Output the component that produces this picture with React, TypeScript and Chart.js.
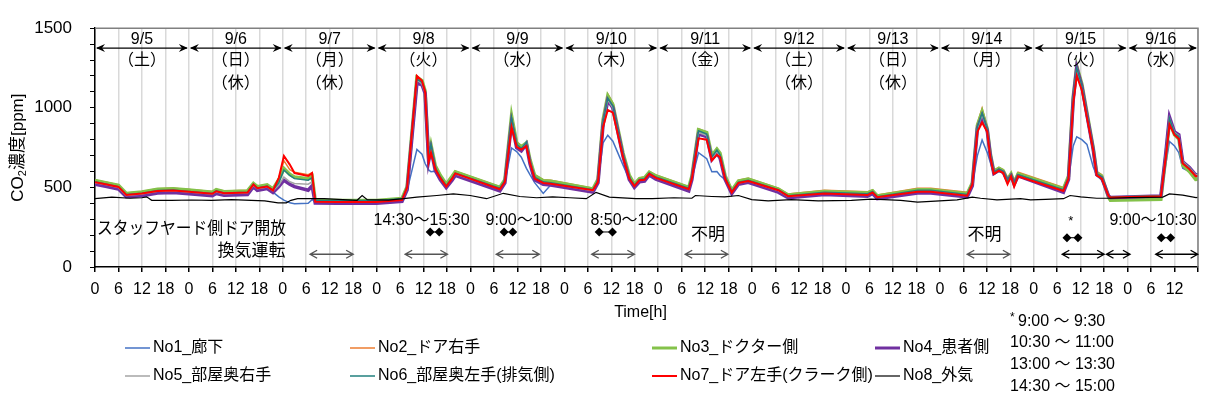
import React, { useEffect, useRef } from 'react';
import { Chart, registerables } from 'chart.js';

Chart.register(...registerables);

const FONT = '"Liberation Sans", Arial, "Noto Sans CJK JP", sans-serif';

// elapsed hours from 9/5 0:00
const hours = [
  0, 3, 6, 8, 12, 16, 20, 24, 30, 31, 33, 39, 40.5, 41.5, 44, 45.5,
  47, 48.3, 49.8, 51, 54.5, 55.5, 56.3, 62, 72,
  78.5, 79.8, 82.3, 83.6, 84.4, 85.3, 85.9, 87, 88.3, 89.8, 91.3, 92.1,
  103.5, 104.8, 106.5, 107.8, 109, 110.3, 111.2, 112.4, 114.6, 116.5,
  127.3, 128.6, 129.9, 131.1, 132.4, 135, 136.6, 137.9, 139.2, 140.5, 141.7, 143.4,
  151.8, 152.6, 154.3, 156.4, 157.7, 159, 159.8, 161.1, 162.8, 164.5, 167,
  174.7, 177.2, 186.5, 197.5, 198.8, 200, 210.3, 213.7, 223, 224.3,
  225.6, 226.8, 228.1, 228.9, 229.8, 231.1, 232.2, 233.3, 234.2, 235, 236,
  247.6, 248.9, 250.1, 251, 252.3, 253.6, 255.2, 256.1, 257.4, 259.1, 259.6,
  272.5, 273.8, 274.7, 276, 277.1, 278.1, 279.8, 281.4, 282,
];

const no1 = [
  528, 514, 498, 448, 457, 474, 477, 469, 456, 472, 459, 464, 515, 490, 500, 470,
  440, 420, 403, 398, 400, 423, 412, 410, 410,
  420, 480, 738, 708, 650, 610, 598, 602, 559, 505, 552, 583,
  490, 535, 748, 725, 690, 620, 580, 530, 462, 515,
  480, 540, 780, 828, 790, 640, 550, 505, 545, 550, 585, 560,
  490, 555, 718, 680, 598, 600, 575, 549, 479, 528, 540,
  480, 443, 465, 455, 470, 438, 476, 476, 450, 515,
  700, 798, 720, 658, 580, 600, 590, 535, 570, 515, 570,
  478, 550, 760, 818, 800, 770, 630, 575, 545, 450, 438,
  446, 650, 788, 760, 718, 620, 599, 565, 570,
];

const no2 = [
  545, 532, 515, 465, 475, 492, 495, 487, 474, 488, 477, 482, 528, 507, 518, 495,
  560, 668, 612, 595, 580, 592, 412, 400, 400,
  422, 505, 1200, 1175, 1110, 690, 760, 640, 580, 525, 575, 602,
  505, 550, 958, 785, 760, 775, 680, 580, 548, 545,
  495, 555, 930, 1087, 1030, 720, 580, 525, 560, 565, 600, 578,
  505, 572, 868, 848, 700, 745, 715, 575, 485, 545, 557,
  495, 458, 482, 472, 485, 452, 495, 495, 469, 530,
  900, 998, 880, 715, 610, 625, 612, 560, 592, 540, 595,
  500, 575, 1080, 1277, 1160, 980, 760, 600, 580, 432, 430,
  445, 710, 920, 835, 815, 650, 615, 565, 570,
];

const no3 = [
  543, 528, 513, 462, 471, 488, 491, 483, 470, 486, 473, 478, 525, 505, 516, 491,
  548, 619, 582, 565, 555, 570, 418, 418, 418,
  430, 505, 1190, 1170, 1105, 685, 765, 635, 575, 520, 570, 598,
  500, 548, 950, 780, 755, 780, 675, 575, 542, 538,
  490, 550, 925, 1075, 1020, 715, 575, 520, 555, 560, 595, 572,
  500, 570, 862, 845, 700, 740, 715, 572, 480, 540, 552,
  490, 452, 475, 465, 478, 446, 486, 486, 460, 528,
  890, 975, 870, 712, 600, 620, 605, 550, 585, 530, 585,
  490, 570, 1070, 1260, 1150, 970, 750, 590, 570, 440, 420,
  425, 700, 915, 830, 805, 640, 600, 550, 552,
];

const no4 = [
  520, 506, 490, 442, 448, 465, 468, 460, 448, 462, 451, 456, 505, 482, 493, 468,
  505, 545, 520, 505, 482, 510, 402, 400, 400,
  412, 485, 1155, 1145, 1090, 665, 740, 605, 548, 498, 545, 575,
  478, 528, 905, 750, 730, 770, 650, 548, 520, 515,
  470, 530, 895, 1047, 1000, 695, 550, 500, 535, 540, 578, 552,
  478, 548, 835, 820, 675, 715, 685, 550, 462, 520, 532,
  470, 435, 455, 445, 462, 430, 465, 465, 440, 510,
  870, 948, 858, 700, 588, 608, 595, 540, 572, 520, 572,
  470, 550, 1050, 1250, 1135, 955, 740, 580, 560, 448, 436,
  446, 725, 942, 848, 830, 660, 625, 578, 580,
];

const no5 = [
  530, 516, 500, 450, 459, 476, 479, 471, 458, 473, 460, 466, 512, 492, 503, 478,
  515, 565, 535, 525, 520, 535, 412, 410, 410,
  422, 495, 1175, 1150, 1095, 670, 750, 618, 560, 508, 555, 585,
  490, 540, 915, 765, 740, 790, 660, 560, 530, 525,
  480, 540, 905, 1050, 1000, 700, 560, 510, 545, 550, 585, 560,
  490, 560, 845, 825, 680, 725, 695, 560, 470, 528, 540,
  480, 443, 465, 455, 470, 438, 476, 476, 450, 520,
  870, 955, 860, 700, 590, 610, 595, 540, 575, 520, 575,
  480, 560, 1055, 1245, 1135, 955, 740, 580, 560, 450, 438,
  448, 720, 935, 845, 825, 660, 625, 578, 580,
];

const no6 = [
  535, 520, 505, 455, 463, 480, 483, 475, 462, 478, 465, 470, 520, 497, 508, 483,
  530, 609, 575, 555, 545, 560, 420, 418, 418,
  428, 500, 1180, 1160, 1100, 680, 768, 625, 565, 512, 560, 590,
  495, 545, 935, 770, 745, 785, 665, 565, 535, 530,
  485, 545, 910, 1060, 1010, 705, 565, 515, 550, 555, 590, 565,
  495, 565, 855, 835, 690, 735, 705, 565, 475, 533, 545,
  485, 448, 470, 460, 475, 442, 482, 482, 455, 525,
  880, 965, 865, 705, 595, 615, 600, 545, 580, 525, 580,
  485, 565, 1060, 1250, 1140, 960, 745, 585, 565, 452, 440,
  448, 720, 935, 840, 820, 655, 620, 572, 575,
];

const no7 = [
  532, 518, 503, 452, 461, 478, 481, 473, 460, 476, 463, 468, 518, 495, 506, 481,
  560, 698, 643, 590, 572, 590, 410, 408, 408,
  420, 500, 1200, 1170, 1100, 660, 718, 615, 558, 505, 555, 588,
  488, 535, 880, 755, 738, 760, 655, 555, 528, 523,
  482, 535, 880, 987, 970, 690, 555, 508, 545, 548, 585, 560,
  488, 555, 808, 800, 670, 705, 690, 555, 468, 528, 540,
  482, 445, 462, 452, 468, 438, 472, 472, 448, 518,
  850, 908, 850, 690, 585, 605, 590, 520, 570, 505, 570,
  478, 555, 1030, 1200, 1110, 940, 735, 575, 555, 448, 436,
  445, 700, 895, 830, 805, 650, 615, 570, 572,
];

const outdoorHours = [
  0, 4.3, 9, 12, 13.2, 14.5, 19.6, 24.7, 29.8, 34.9, 40, 43.4, 46.8, 48.9, 50.1,
  51.8, 58.6, 67, 68.3, 69.6, 75, 78.9, 82.3, 87.4, 91.6, 95.9, 100.1, 104.4, 108.6, 112.9,
  117, 121.4, 125.6, 128.1, 131.5, 138.3, 142.5, 148, 152.6, 153.5, 157.7, 161, 164.5, 167.9, 172.1,
  178, 184.9, 193.4, 198.5, 201.8, 206, 210.3, 213.7, 220.4, 224.3, 226.4, 230.6, 236.6, 239.2, 243,
  247.6, 249.3, 252, 256.1, 259.5, 264.6, 273, 274.7, 278.1, 281.5, 282,
];
const no8 = [
  429, 439, 432, 435, 441, 419, 419, 421, 419, 423, 419, 415, 403, 403, 419,
  429, 429, 419, 449, 423, 420, 429, 439, 449, 459, 449, 429, 463, 443, 435,
  440, 435, 429, 469, 439, 429, 429, 435, 432, 449, 443, 440, 449, 423, 415,
  423, 415, 419, 426, 423, 418, 407, 412, 422, 439, 432, 422, 429, 422, 425,
  429, 449, 440, 432, 432, 436, 439, 459, 452, 436, 438,
];

const seriesLabels = [
  'No1_廊下', 'No2_ドア右手', 'No3_ドクター側', 'No4_患者側',
  'No5_部屋奥右手', 'No6_部屋奥左手(排気側)', 'No7_ドア左手(クラーク側)', 'No8_外気',
];
const seriesColors = ['#4472C4', '#ED7D31', '#84C24A', '#7030A0', '#A5A5A5', '#22807E', '#FF0000', '#000000'];
const seriesWidths = [1.5, 1.5, 3.5, 3.5, 1.5, 1.5, 2, 1.2];

const dayLabels = ['9/5', '9/6', '9/7', '9/8', '9/9', '9/10', '9/11', '9/12', '9/13', '9/14', '9/15', '9/16'];
const weekdayLabels = ['（土）', '（日）', '（月）', '（火）', '（水）', '（木）', '（金）', '（土）', '（日）', '（月）', '（火）', '（水）'];
const holidayIdx = [1, 2, 7, 8];
const holidayLabel = '（休）';

const X_MAX = 282;
const Y_MAX = 1500;

// lower annotations (hours, ppm)
const periodArrows = [
  [55, 66], [79.3, 90.1], [102.6, 113.6], [127, 137.9], [150.9, 161.8],
  [223, 233.9], [247.3, 258], [258.6, 264.6], [271.2, 281.9],
];
const periodArrowColors = ['#555', '#555', '#555', '#555', '#555', '#555', '#000', '#000', '#000'];
const timeTexts = [
  { t: '14:30～15:30', h: 83.5, v: 291 },
  { t: '9:00～10:00', h: 111, v: 291 },
  { t: '8:50～12:00', h: 137.8, v: 291 },
  { t: '不明', h: 156.7, v: 201 },
  { t: '不明', h: 227.4, v: 201 },
  { t: '9:00～10:30', h: 270.5, v: 291 },
];
const diamondPairs = [
  { a: 85.7, b: 88.0, v: 220 },
  { a: 104.6, b: 106.8, v: 220 },
  { a: 128.9, b: 132.3, v: 220 },
  { a: 248.5, b: 251.3, v: 184 },
  { a: 272.6, b: 275.0, v: 184 },
];
const footNotes = ['9:00 ～ 9:30', '10:30 ～ 11:00', '13:00 ～ 13:30', '14:30 ～ 15:00'];

function toPoints(xs: number[], ys: number[]) {
  return xs.map((x, i) => ({ x, y: ys[i] }));
}

const annotationPlugin = {
  id: 'annotations',
  afterDraw(chart: any) {
    const { ctx, chartArea } = chart;
    const xs = chart.scales.x;
    const ys = chart.scales.y;
    const X = (h: number) => xs.getPixelForValue(h);
    const Y = (v: number) => ys.getPixelForValue(v);
    const text = (s: string, x: number, y: number, size: number, align: CanvasTextAlign = 'center', maxW?: number) => {
      ctx.font = `${size}px ${FONT}`;
      ctx.textAlign = align;
      ctx.textBaseline = 'middle';
      ctx.fillStyle = '#000';
      if (maxW) ctx.fillText(s, x, y, maxW);
      else ctx.fillText(s, x, y);
    };
    ctx.save();

    // plot border (top/right)
    ctx.strokeStyle = '#808080';
    ctx.lineWidth = 1.5;
    ctx.beginPath();
    ctx.moveTo(chartArea.left, chartArea.top);
    ctx.lineTo(chartArea.right, chartArea.top);
    ctx.lineTo(chartArea.right, chartArea.bottom);
    ctx.stroke();

    // day arrows
    const ay = Y(1375);
    const filledHead = (x: number, y: number, dir: number) => {
      ctx.beginPath();
      ctx.moveTo(x, y);
      ctx.lineTo(x - dir * 9, y - 4);
      ctx.lineTo(x - dir * 6, y);
      ctx.lineTo(x - dir * 9, y + 4);
      ctx.closePath();
      ctx.fill();
    };
    ctx.strokeStyle = '#000';
    ctx.fillStyle = '#000';
    ctx.lineWidth = 1.2;
    dayLabels.forEach((d, i) => {
      const x1 = X(i * 24);
      const x2 = X(Math.min((i + 1) * 24, X_MAX));
      ctx.beginPath();
      ctx.moveTo(x1 + 2, ay);
      ctx.lineTo(x2 - 2, ay);
      ctx.stroke();
      filledHead(x1 + 1, ay, -1);
      filledHead(x2 - 1, ay, 1);
      const mid = i < dayLabels.length - 1 ? i * 24 + 12 : 272.5;
      text(d, X(mid), Y(1428), 16);
      text(weekdayLabels[i], X(mid), Y(1297), 16);
      if (holidayIdx.includes(i)) text(holidayLabel, X(mid), Y(1153), 16);
    });

    // lower annotation texts
    text('スタッフヤード側ドア開放', X(0.5), Y(239), 17, 'left', 189);
    text('換気運転', X(48.7), Y(100), 17, 'right');
    timeTexts.forEach((tt) => text(tt.t, X(tt.h), Y(tt.v), tt.t === '不明' ? 17 : 16));
    text('*', X(249.5), Y(288), 13);

    // diamonds
    const diamond = (x: number, y: number) => {
      ctx.beginPath();
      ctx.moveTo(x, y - 4.5);
      ctx.lineTo(x + 4.5, y);
      ctx.lineTo(x, y + 4.5);
      ctx.lineTo(x - 4.5, y);
      ctx.closePath();
      ctx.fill();
    };
    ctx.fillStyle = '#000';
    ctx.strokeStyle = '#000';
    ctx.lineWidth = 1;
    diamondPairs.forEach((p) => {
      ctx.beginPath();
      ctx.moveTo(X(p.a), Y(p.v));
      ctx.lineTo(X(p.b), Y(p.v));
      ctx.stroke();
      diamond(X(p.a), Y(p.v));
      diamond(X(p.b), Y(p.v));
    });

    // period arrows
    const by = Y(80);
    periodArrows.forEach(([a, b], i) => {
      const x1 = X(a);
      const x2 = X(b);
      ctx.strokeStyle = periodArrowColors[i];
      ctx.lineWidth = 1.4;
      ctx.beginPath();
      ctx.moveTo(x1, by);
      ctx.lineTo(x2, by);
      ctx.moveTo(x1 + 7, by - 4);
      ctx.lineTo(x1, by);
      ctx.lineTo(x1 + 7, by + 4);
      ctx.moveTo(x2 - 7, by - 4);
      ctx.lineTo(x2, by);
      ctx.lineTo(x2 - 7, by + 4);
      ctx.stroke();
    });

    // y axis title
    ctx.save();
    ctx.translate(18, (chartArea.top + chartArea.bottom) / 2);
    ctx.rotate(-Math.PI / 2);
    ctx.fillStyle = '#000';
    ctx.textBaseline = 'middle';
    ctx.textAlign = 'left';
    const f1 = `17px ${FONT}`;
    const f2 = `11px ${FONT}`;
    ctx.font = f1;
    const w1 = ctx.measureText('CO').width;
    const w3 = ctx.measureText('濃度[ppm]').width;
    ctx.font = f2;
    const w2 = ctx.measureText('2').width;
    let tx = -(w1 + w2 + w3) / 2;
    ctx.font = f1;
    ctx.fillText('CO', tx, 0);
    tx += w1;
    ctx.font = f2;
    ctx.fillText('2', tx, 5);
    tx += w2;
    ctx.font = f1;
    ctx.fillText('濃度[ppm]', tx, 0);
    ctx.restore();

    // x axis title
    text('Time[h]', (chartArea.left + chartArea.right) / 2 - 6, 313, 16);

    // legend
    const colX = [125, 350, 652, 875];
    const rowY = [348, 376];
    chart.data.datasets.forEach((ds: any, i: number) => {
      const x = colX[i % 4];
      const y = rowY[Math.floor(i / 4)];
      ctx.strokeStyle = ds.borderColor;
      ctx.lineWidth = Math.min(ds.borderWidth, 3);
      ctx.beginPath();
      ctx.moveTo(x, y);
      ctx.lineTo(x + 25, y);
      ctx.stroke();
      text(ds.label, x + 28, y, 16, 'left');
    });

    // footnotes
    text('*', 1010, 318, 12, 'left');
    text(footNotes[0], 1018, 322, 16, 'left');
    footNotes.slice(1).forEach((f, i) => text(f, 1010, 343 + i * 22, 16, 'left'));

    ctx.restore();
  },
};

export default function App() {
  const ref = useRef<HTMLCanvasElement>(null);
  useEffect(() => {
    document.body.style.margin = '0';
    const series = [no1, no2, no3, no4, no5, no6, no7];
    const datasets: any[] = series.map((vals, i) => ({
      label: seriesLabels[i],
      data: toPoints(hours, vals),
      borderColor: seriesColors[i],
      borderWidth: seriesWidths[i],
      pointRadius: 0,
      tension: 0,
      fill: false,
      order: 7 - i,
    }));
    datasets.push({
      label: seriesLabels[7],
      data: toPoints(outdoorHours, no8),
      borderColor: seriesColors[7],
      borderWidth: seriesWidths[7],
      pointRadius: 0,
      tension: 0,
      fill: false,
      order: 0,
    });
    const chart = new Chart(ref.current as HTMLCanvasElement, {
      type: 'line',
      data: { datasets },
      options: {
        responsive: false,
        animation: false,
        devicePixelRatio: 1,
        layout: { padding: { top: 16, right: 2, left: 0, bottom: 0 } },
        plugins: { legend: { display: false }, tooltip: { enabled: false } },
        scales: {
          x: {
            type: 'linear',
            min: 0,
            max: X_MAX,
            afterFit: (s: any) => { s.height = 136; },
            grid: { color: '#d9d9d9', lineWidth: 1.5, tickColor: '#000', tickLength: 5, drawTicks: true },
            border: { color: '#000', width: 1.5 },
            ticks: {
              stepSize: 6,
              autoSkip: false,
              maxRotation: 0,
              minRotation: 0,
              padding: 8,
              color: '#000',
              font: { family: FONT, size: 16 },
              callback: (v: any) => (v >= X_MAX ? '' : String(Number(v) % 24)),
            },
          },
          y: {
            type: 'linear',
            min: 0,
            max: Y_MAX,
            afterFit: (s: any) => { s.width = 95; },
            grid: { drawOnChartArea: false, drawTicks: true, tickLength: 5, tickColor: '#000' },
            border: { color: '#000', width: 1.5 },
            ticks: {
              stepSize: 100,
              autoSkip: false,
              padding: 18,
              color: '#000',
              font: { family: FONT, size: 17 },
              callback: (v: any) => (Number(v) % 500 === 0 ? String(v) : ''),
            },
          },
        },
      },
      plugins: [annotationPlugin],
    });
    return () => chart.destroy();
  }, []);
  return <canvas ref={ref} width={1206} height={403} style={{ display: 'block' }} />;
}
